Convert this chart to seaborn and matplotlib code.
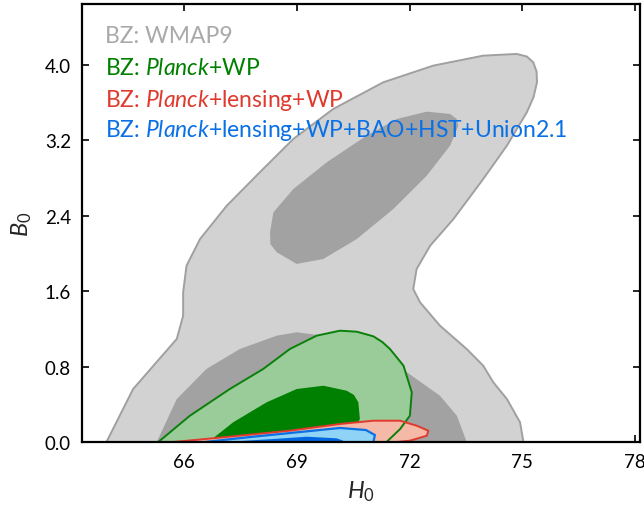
import numpy as np
import pandas as pd
import matplotlib
matplotlib.use("Agg")
import matplotlib.pyplot as plt
import seaborn as sns

# ---- contour outlines (H0, B0) ----
wmap_outer_h = [63.94, 64.65, 65.27, 65.81, 65.98, 65.98, 66.07, 66.43, 67.14, 68.02, 68.91, 69.97, 71.30,
                72.63, 73.96, 74.85, 75.12, 75.29, 75.38, 75.39, 75.30, 75.12, 74.59, 73.96, 73.17, 72.55,
                72.19, 72.10, 72.28, 72.81, 73.52, 73.96, 74.23, 74.59, 74.94, 75.03]
wmap_outer_b = [0.0, 0.562, 0.846, 1.093, 1.340, 1.588, 1.871, 2.154, 2.507, 2.862, 3.215, 3.533, 3.816,
                3.993, 4.099, 4.117, 4.090, 4.029, 3.930, 3.816, 3.660, 3.498, 3.144, 2.790, 2.366, 2.083,
                1.836, 1.623, 1.482, 1.234, 0.987, 0.810, 0.633, 0.456, 0.209, 0.0]

wmap_inner_up_h = [68.29, 68.30, 68.47, 69.00, 69.71, 70.60, 71.57, 72.46, 73.08, 73.30, 73.25, 73.08,
                   72.46, 71.66, 70.86, 69.80, 68.91, 68.38]
wmap_inner_up_b = [2.225, 2.100, 2.013, 1.889, 1.942, 2.154, 2.472, 2.826, 3.144, 3.356, 3.430, 3.480,
                   3.505, 3.427, 3.250, 2.968, 2.684, 2.437]

wmap_inner_lo_h = [65.28, 65.81, 66.60, 67.49, 68.47, 69.00, 69.71, 70.95, 71.22, 71.93, 72.81, 73.26, 73.52]
wmap_inner_lo_b = [0.0, 0.456, 0.775, 0.987, 1.128, 1.164, 1.128, 1.040, 0.987, 0.740, 0.491, 0.279, 0.0]

planck_outer_h = [65.32, 66.16, 67.22, 68.11, 68.82, 69.53, 70.15, 70.60, 71.04, 71.28, 71.48, 71.84,
                  72.06, 72.01, 71.75, 71.39]
planck_outer_b = [0.0, 0.279, 0.562, 0.775, 0.987, 1.128, 1.181, 1.170, 1.121, 1.060, 0.987, 0.810,
                  0.527, 0.279, 0.138, 0.0]

planck_inner_h = [66.65, 67.31, 68.20, 69.00, 69.71, 70.33, 70.52, 70.64, 70.68, 70.55, 70.42]
planck_inner_b = [0.0, 0.209, 0.421, 0.562, 0.597, 0.544, 0.500, 0.421, 0.244, 0.138, 0.0]

lens_outer_h = [65.72, 67.05, 68.82, 70.15, 71.04, 71.75, 72.19, 72.50, 72.46, 72.01, 71.66]
lens_outer_b = [0.0, 0.050, 0.120, 0.191, 0.226, 0.226, 0.173, 0.120, 0.067, 0.014, 0.0]

all_outer_h = [66.56, 67.76, 69.09, 70.15, 70.84, 71.08, 71.04]
all_outer_b = [0.0, 0.053, 0.106, 0.149, 0.127, 0.074, 0.0]

all_inner_h = [67.09, 68.38, 69.27, 70.06, 70.24, 70.15]
all_inner_b = [0.0, 0.032, 0.056, 0.039, 0.014, 0.0]

labels = ["BZ: WMAP9",
          r"BZ: $\mathit{Planck}$+WP",
          r"BZ: $\mathit{Planck}$+lensing+WP",
          r"BZ: $\mathit{Planck}$+lensing+WP+BAO+HST+Union2.1"]
label_colors = ["#a9a9a9", "#008000", "#e03a2f", "#0a70e6"]

x_ticks = [66, 69, 72, 75, 78]
y_ticks = [0.0, 0.8, 1.6, 2.4, 3.2, 4.0]

# ---- style ----
sns.set_theme(style="ticks")
plt.rcParams["font.family"] = ["Lato", "DejaVu Sans"]
plt.rcParams["mathtext.fontset"] = "custom"
plt.rcParams["mathtext.rm"] = "Lato"
plt.rcParams["mathtext.it"] = "Lato:italic"

fig = plt.figure(figsize=(6.44, 5.10), dpi=100)
ax = fig.add_axes([82 / 644, 1 - 443 / 510, 558 / 644, 438 / 510])


def region(h, b, face, edge=None, lw=1.5, z=1):
    ax.fill(h, b, facecolor=face, edgecolor="none", zorder=z)
    if edge is not None:
        df = pd.DataFrame({"H0": list(h) + [h[0]], "B0": list(b) + [b[0]]})
        sns.lineplot(data=df, x="H0", y="B0", sort=False, estimator=None, color=edge,
                     linewidth=lw, ax=ax, zorder=z + 0.5)


region(wmap_outer_h, wmap_outer_b, "#d2d2d2", "#a0a0a0", 1.4, z=1)
region(wmap_inner_up_h, wmap_inner_up_b, "#a2a2a2", None, z=2)
region(wmap_inner_lo_h, wmap_inner_lo_b, "#a2a2a2", None, z=2)
region(planck_outer_h, planck_outer_b, "#99cc99", None, z=3)
region(planck_inner_h, planck_inner_b, "#008000", None, z=4)
region(lens_outer_h, lens_outer_b, "#f5b9a7", None, z=5)
region(all_outer_h, all_outer_b, "#8fd3f6", None, z=6)
region(all_inner_h, all_inner_b, "#0066e0", None, z=7)

# outlines on top
for h, b, c, lw, z in [(planck_outer_h, planck_outer_b, "#0a800a", 1.4, 8),
                       (lens_outer_h, lens_outer_b, "#e03a2f", 1.4, 9),
                       (all_outer_h, all_outer_b, "#0a70e6", 1.6, 10)]:
    df = pd.DataFrame({"H0": list(h), "B0": list(b)})
    sns.lineplot(data=df, x="H0", y="B0", sort=False, estimator=None, color=c,
                 linewidth=lw, ax=ax, zorder=z)

ax.set_xlim(63.29, 78.13)
ax.set_ylim(0.0, 4.647)
ax.set_xticks(x_ticks)
ax.set_yticks(y_ticks)
ax.set_yticklabels([f"{v:.1f}" for v in y_ticks])
ax.tick_params(direction="in", top=True, right=True, length=5, width=1.2,
               labelsize=13.5, colors="black", pad=8)
for s in ax.spines.values():
    s.set_linewidth(1.6)
    s.set_color("black")
    s.set_zorder(20)
ax.set_xlabel(r"$H_0$", fontsize=17, labelpad=6)
ax.set_ylabel(r"$B_0$", fontsize=17, labelpad=8)

ys = [0.928, 0.855, 0.783, 0.713]
for lab, col, yy in zip(labels, label_colors, ys):
    ax.text(0.041, yy, lab, color=col, fontsize=16.5, transform=ax.transAxes,
            va="center", ha="left", zorder=30)

fig.savefig("out.png", dpi=100)
